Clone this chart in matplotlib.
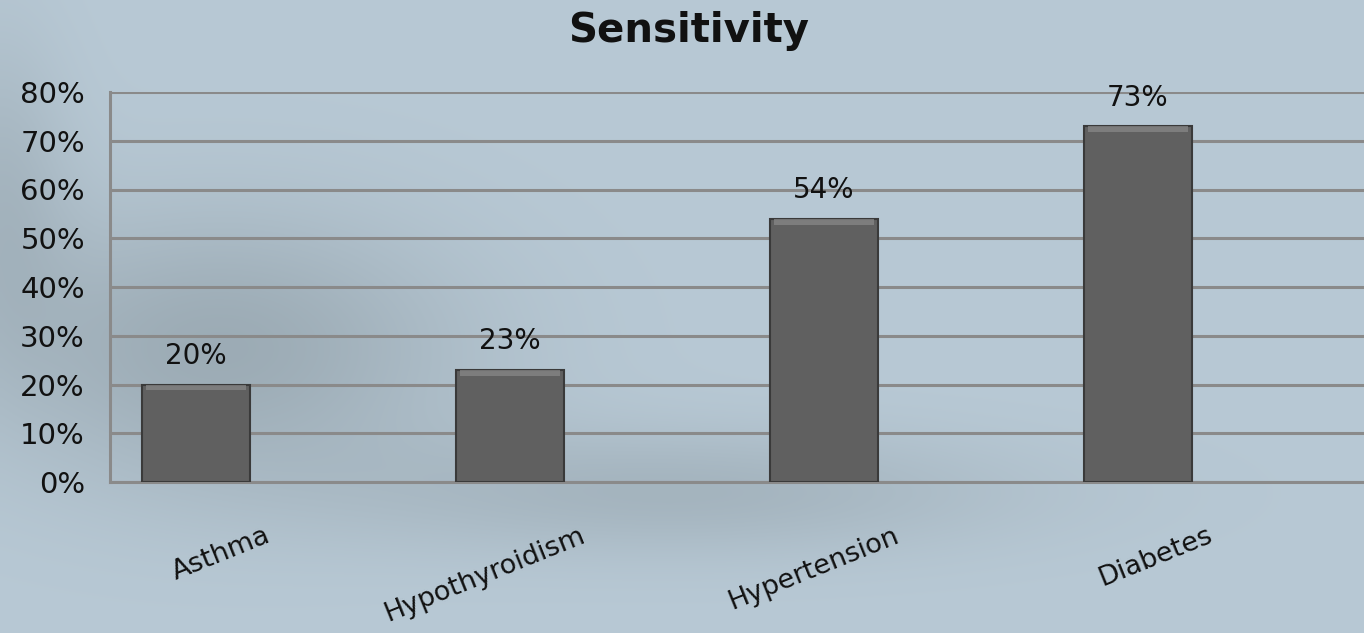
import numpy as np
import matplotlib
matplotlib.use("Agg")
import matplotlib.pyplot as plt

categories = ["Asthma", "Hypothyroidism", "Hypertension", "Diabetes"]
values = [20, 23, 54, 73]
yticks = [0, 10, 20, 30, 40, 50, 60, 70, 80]
title = "Sensitivity"

W, H = 1364, 633
fig = plt.figure(figsize=(W / 100, H / 100), dpi=100)

# background gradient (decorative)
bg = fig.add_axes([0, 0, 1, 1], zorder=-10)
yy, xx = np.mgrid[0:1:200j, 0:1:400j]
base = np.array([184, 201, 213]) / 255.0
dark = np.array([138, 152, 160]) / 255.0
d = np.exp(-(((xx - 0.16) / 0.18) ** 2 + ((yy - 0.55) / 0.22) ** 2))
d += 0.7 * np.exp(-(((xx - 0.5) / 0.25) ** 2 + ((yy - 0.78) / 0.1) ** 2))
d += 0.6 * np.exp(-(((xx - 0.0) / 0.05) ** 2 + ((yy - 0.3) / 0.25) ** 2))
d = np.clip(d * 0.6, 0, 1)
img = base[None, None, :] * (1 - d[..., None]) + dark[None, None, :] * d[..., None]
bg.imshow(img, aspect="auto", extent=[0, 1, 1, 0], interpolation="bicubic")
bg.set_axis_off()

ax = fig.add_axes([110 / W, 1 - 482 / H, 1 - 110 / W, (482 - 92) / H])
ax.patch.set_alpha(0)
x = np.arange(len(categories))
ax.bar(x, values, width=0.345, color="#606060", edgecolor="#3a3a3a",
       linewidth=1.5, zorder=3)
# bevel highlight at bar tops
for xi, v in zip(x, values):
    ax.bar(xi, 1.2, bottom=v - 1.2, width=0.32, color="#8a8a8a",
           linewidth=0, zorder=4, alpha=0.7)

ax.set_xlim(-0.274, 3.72)
ax.set_ylim(0, 80)
ax.set_yticks(yticks)
ax.set_yticklabels([f"{t}%" for t in yticks], fontsize=21, color="#111111")
ax.tick_params(axis="y", length=0, pad=18)
ax.tick_params(axis="x", length=0)
ax.set_xticks([])
ax.grid(axis="y", color="#8a8a8a", linewidth=2.2, zorder=1)
for s in ["top", "right"]:
    ax.spines[s].set_visible(False)
for s in ["left", "bottom"]:
    ax.spines[s].set_color("#8a8a8a")
    ax.spines[s].set_linewidth(2.2)

for xi, v in zip(x, values):
    ax.text(xi, v + 3, f"{v}%", ha="center", va="bottom", fontsize=20,
            color="#111111", zorder=5)

for xi, c in zip(x, categories):
    ax.text(xi + 0.235, -10.8, c, ha="right", va="center", rotation=22,
            rotation_mode="anchor", fontsize=19.5, color="#111111",
            clip_on=False)

fig.text(689 / W, 1 - 31 / H, title, ha="center", va="center",
         fontsize=29, fontweight="bold", color="#111111")

fig.savefig("out.png", dpi=100)
